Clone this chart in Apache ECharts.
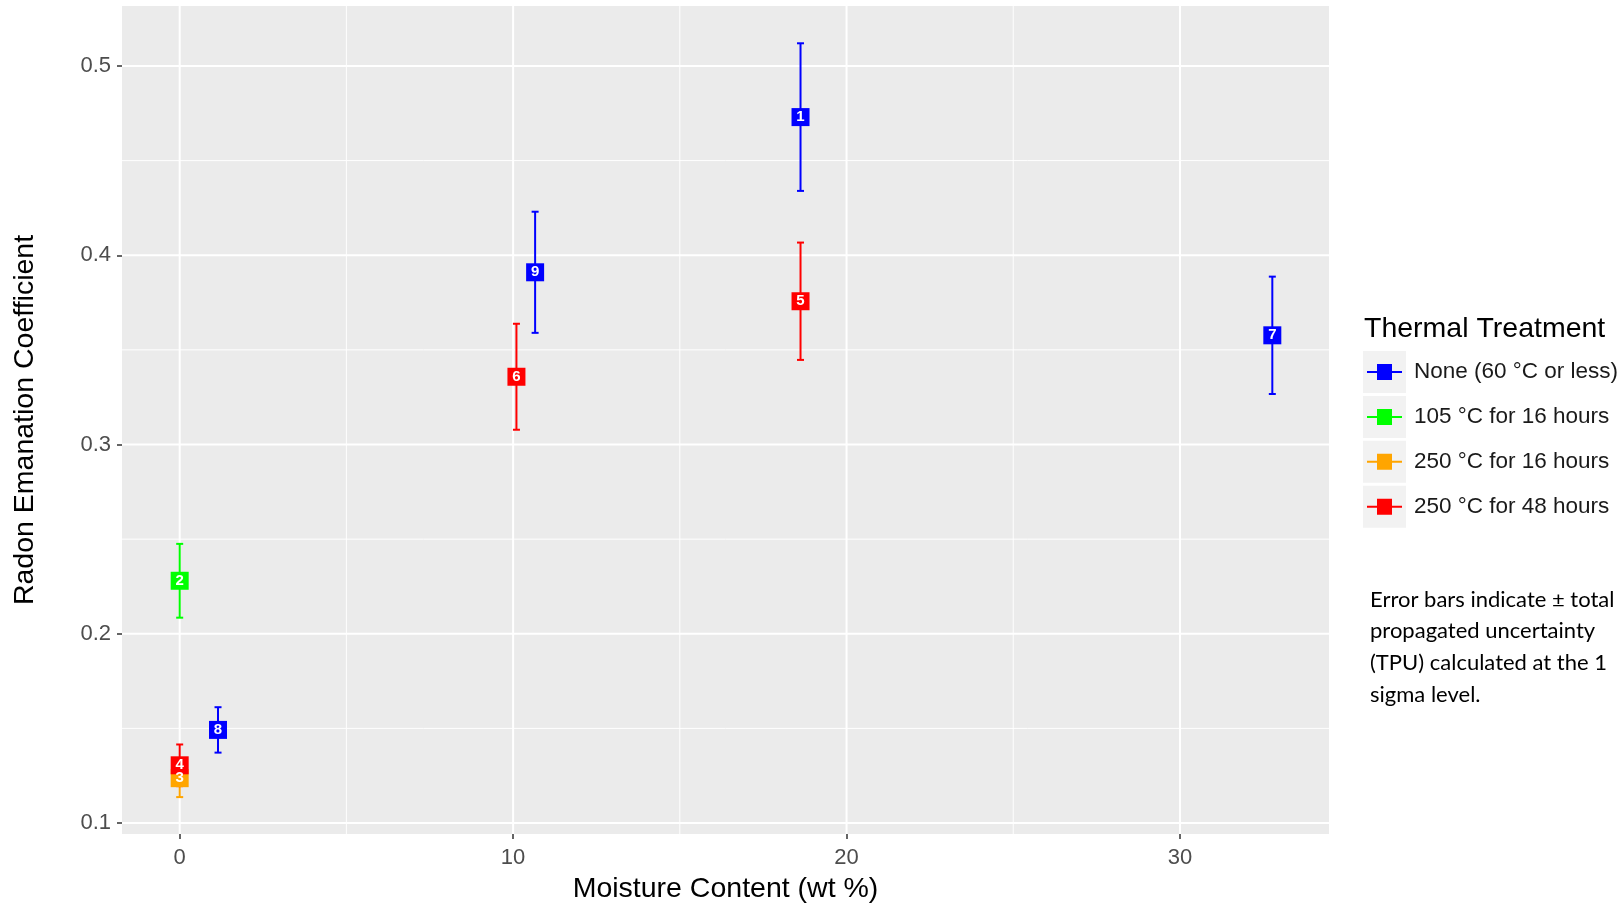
<!DOCTYPE html>
<html>
<head>
<meta charset="utf-8">
<script src="https://cdn.jsdelivr.net/npm/echarts@6/dist/echarts.min.js"></script>
<style>
html,body{margin:0;padding:0;background:#fff;}
#chart{width:1623px;height:903px;}
</style>
</head>
<body>
<div id="chart"></div>
<script>
// ---- data ----
const sampleIds = ['1','2','3','4','5','6','7','8','9'];
const moisture = [18.62, 0, 0, 0, 18.62, 10.10, 32.77, 1.15, 10.66];
const emanation = [0.473, 0.228, 0.1237, 0.1305, 0.3757, 0.3358, 0.3577, 0.1492, 0.391];
const tpu = [0.039, 0.0195, 0.010, 0.011, 0.031, 0.028, 0.031, 0.012, 0.032];
const groupIndex = [0, 1, 2, 3, 3, 3, 0, 0, 0];
const groupNames = ['None (60 °C or less)', '105 °C for 16 hours', '250 °C for 16 hours', '250 °C for 48 hours'];
const groupColors = ['#0000FF', '#00FF00', '#FFA500', '#FF0000'];
const xMajorTicks = [0, 10, 20, 30];
const xMinorTicks = [5, 15, 25];
const yMajorTicks = [0.1, 0.2, 0.3, 0.4, 0.5];
const yMinorTicks = [0.15, 0.25, 0.35, 0.45];
const noteLines = ['Error bars indicate \u00B1 total', 'propagated uncertainty', '(TPU) calculated at the 1', 'sigma level.'];

const chart = echarts.init(document.getElementById('chart'));

const series = [];
// gridlines drawn through the axes' scales by a custom series
const gridSpec = [];
xMinorTicks.forEach(v => gridSpec.push({dir: 'x', v: v, w: 1}));
yMinorTicks.forEach(v => gridSpec.push({dir: 'y', v: v, w: 1}));
xMajorTicks.forEach(v => gridSpec.push({dir: 'x', v: v, w: 2}));
yMajorTicks.forEach(v => gridSpec.push({dir: 'y', v: v, w: 2}));
series.push({
  name: '__grid', type: 'custom', z: 0, silent: true, animation: false,
  data: gridSpec.map(s => [s.dir === 'x' ? s.v : 0, s.dir === 'y' ? s.v : 0.3]),
  renderItem: function (params, api) {
    const s = gridSpec[params.dataIndex];
    const cs = params.coordSys;
    const p = api.coord([api.value(0), api.value(1)]);
    const shape = s.dir === 'x'
      ? {x1: p[0], y1: cs.y, x2: p[0], y2: cs.y + cs.height}
      : {x1: cs.x, y1: p[1], x2: cs.x + cs.width, y2: p[1]};
    return {type: 'line', shape: shape, style: {stroke: '#FFFFFF', lineWidth: s.w}};
  }
});

groupNames.forEach((g, gi) => {
  const errData = [], ptData = [];
  for (let i = 0; i < sampleIds.length; i++) {
    if (groupIndex[i] !== gi) continue;
    errData.push([moisture[i], emanation[i], emanation[i] - tpu[i], emanation[i] + tpu[i]]);
    ptData.push({value: [moisture[i], emanation[i]], id: sampleIds[i]});
  }
  series.push({
    name: g, type: 'custom', z: 2, data: errData, animation: false,
    itemStyle: {color: groupColors[gi]},
    encode: {x: 0, y: [2, 3]},
    renderItem: function (params, api) {
      const x = api.value(0);
      const lo = api.coord([x, api.value(2)]);
      const hi = api.coord([x, api.value(3)]);
      const c = groupColors[gi];
      const hw = 3.5;
      const st = {stroke: c, lineWidth: 2};
      return {type: 'group', children: [
        {type: 'line', shape: {x1: lo[0], y1: lo[1], x2: hi[0], y2: hi[1]}, style: st},
        {type: 'line', shape: {x1: lo[0]-hw, y1: lo[1], x2: lo[0]+hw, y2: lo[1]}, style: st},
        {type: 'line', shape: {x1: hi[0]-hw, y1: hi[1], x2: hi[0]+hw, y2: hi[1]}, style: st}
      ]};
    }
  });
  series.push({
    name: g, type: 'scatter', z: 3, data: ptData, animation: false,
    symbol: 'rect', symbolSize: 18,
    itemStyle: {color: groupColors[gi], opacity: 1},
    label: {
      show: true, position: 'inside', color: '#FFFFFF', fontWeight: 'bold',
      fontSize: 15, fontFamily: 'Liberation Sans, Arial, sans-serif',
      formatter: p => p.data.id
    }
  });
});

const keyTop0 = 372, keyStep = 44.9;
const graphics = [];
groupNames.forEach((g, i) => {
  graphics.push({type: 'rect', left: 1363, top: keyTop0 + i*keyStep - 21, z: 0,
    shape: {width: 43, height: 42}, style: {fill: '#F2F2F2'}});
});
graphics.push({type: 'text', left: 1364, top: 315, z: 5,
  style: {text: 'Thermal Treatment', fontSize: 28.5, fill: '#000000',
          fontFamily: 'Liberation Sans, Arial, sans-serif'}});
graphics.push({type: 'text', left: 1370, top: 584, z: 5,
  style: {text: noteLines.join('\n'), fontSize: 22, lineHeight: 31.6, fill: '#000000',
          fontFamily: 'Lato, "Open Sans", sans-serif'}});

const iconPath = 'path://M0,7H10V0H25V7H35V9H25V16H10V9H0Z';

chart.setOption({
  animation: false,
  backgroundColor: '#FFFFFF',
  color: groupColors,
  grid: {left: 122, top: 6, right: 294, bottom: 69, show: true,
         outerBoundsMode: 'none', containLabel: false,
         backgroundColor: '#EBEBEB', borderWidth: 0},
  xAxis: {
    type: 'value', min: -1.73, max: 34.47,
    splitLine: {show: false},
    axisLine: {show: false, onZero: false},
    axisTick: {show: true, length: 5, lineStyle: {color: '#333333', width: 1.5}, customValues: xMajorTicks},
    axisLabel: {customValues: xMajorTicks, margin: 13, fontSize: 22, color: '#4D4D4D',
                fontFamily: 'Liberation Sans, Arial, sans-serif'},
    name: 'Moisture Content (wt %)', nameLocation: 'middle', nameGap: 41,
    nameTextStyle: {fontSize: 28.5, color: '#000000', fontFamily: 'Liberation Sans, Arial, sans-serif'}
  },
  yAxis: {
    type: 'value', min: 0.0942, max: 0.5317,
    splitLine: {show: false},
    axisLine: {show: false, onZero: false},
    axisTick: {show: true, length: 5, lineStyle: {color: '#333333', width: 1.5}, customValues: yMajorTicks},
    axisLabel: {customValues: yMajorTicks, margin: 11, fontSize: 22, color: '#4D4D4D',
                fontFamily: 'Liberation Sans, Arial, sans-serif',
                formatter: v => v.toFixed(1)},
    name: 'Radon Emanation Coefficient', nameLocation: 'middle', nameGap: 82,
    nameTextStyle: {fontSize: 28.5, color: '#000000', fontFamily: 'Liberation Sans, Arial, sans-serif'}
  },
  legend: {
    orient: 'vertical', left: 1367, top: keyTop0 - 13, padding: 0, z: 4,
    itemWidth: 35, itemHeight: 16, itemGap: keyStep - 26,
    data: groupNames.map(n => ({name: n, icon: iconPath})),
    textStyle: {fontSize: 22.5, lineHeight: 26, color: '#1A1A1A', padding: [0, 0, 0, 7],
                fontFamily: 'Liberation Sans, Arial, sans-serif'},
    selectedMode: false
  },
  graphic: graphics,
  series: series
});
</script>
</body>
</html>
